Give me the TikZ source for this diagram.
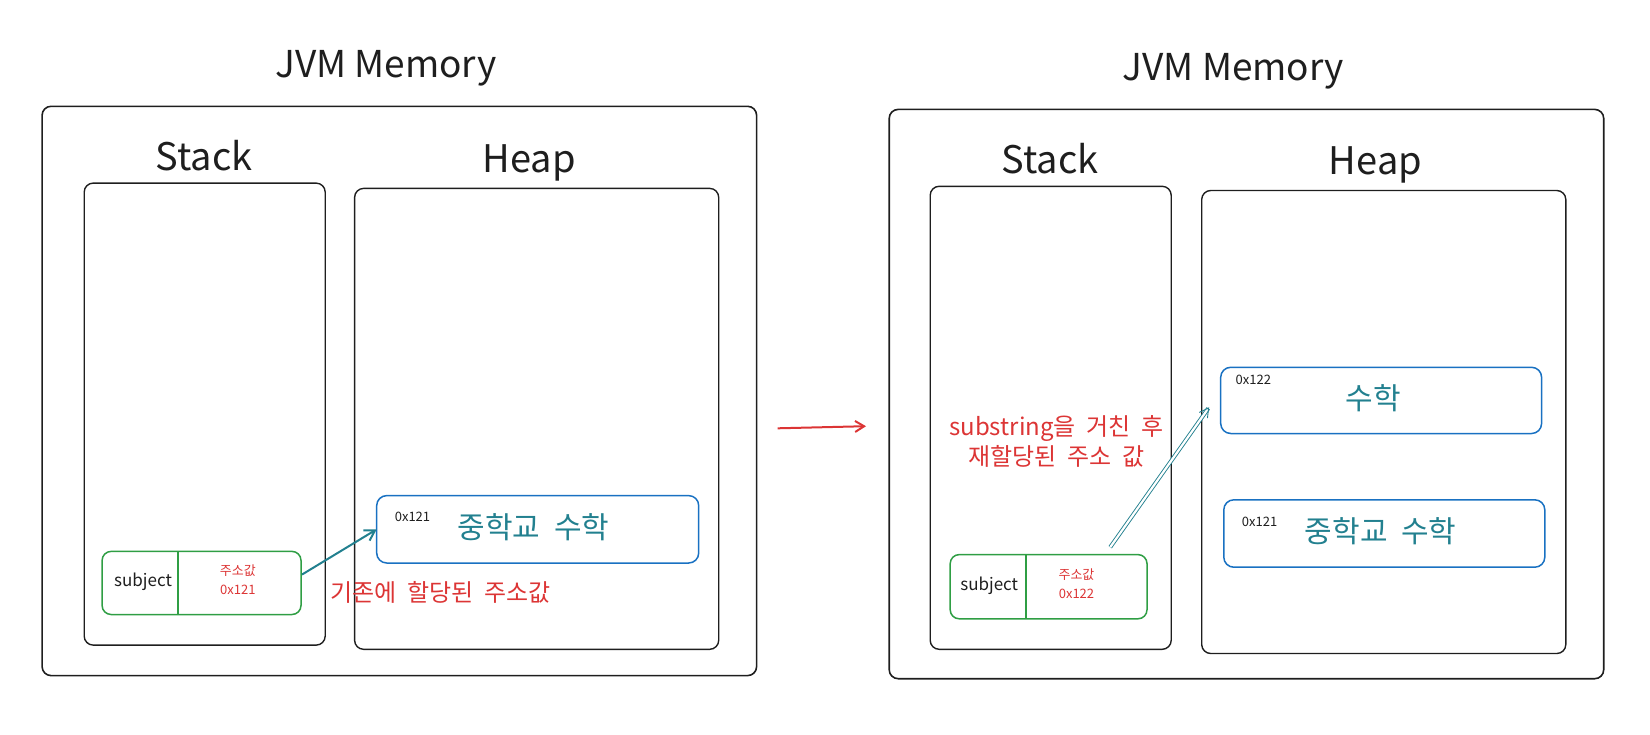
\documentclass[tikz,border=0pt]{standalone}
\usepackage{fontspec}
\setmainfont{Noto Sans CJK KR}
\usetikzlibrary{arrows.meta,calc}
\definecolor{ink}{HTML}{1E1E1E}
\definecolor{exred}{HTML}{DC3535}
\definecolor{exblue}{HTML}{1971C2}
\definecolor{exgreen}{HTML}{2F9E44}
\definecolor{exteal}{HTML}{22808F}
\newcommand\fsz[1]{\fontsize{#1}{#1}\selectfont}
\newcommand\wsp{\hspace{0.45em}}
\begin{document}
\begin{tikzpicture}[x=1pt,y=-1pt,
  frame/.style={draw=ink, line width=1.6pt, rounded corners=9pt, inner sep=0pt, outer sep=0pt, anchor=north west},
  inner/.style={draw=ink, line width=1.4pt, rounded corners=9pt, inner sep=0pt, outer sep=0pt, anchor=north west},
  strbox/.style={draw=exblue, line width=1.5pt, rounded corners=10pt, inner sep=0pt, outer sep=0pt, anchor=north west},
  varbox/.style={draw=exgreen, line width=1.5pt, rounded corners=9pt, inner sep=0pt, outer sep=0pt, anchor=north west},
  title/.style={font=\fsz{37}, text=ink, inner sep=0pt},
  label/.style={font=\fsz{38}, text=ink, inner sep=0pt},
  addr/.style={font=\fsz{13}, text=ink, inner sep=0pt},
  strtext/.style={font=\fsz{30}, text=exteal, inner sep=0pt},
  vartext/.style={font=\fsz{17}, text=ink, inner sep=0pt},
  valtext/.style={font=\fsz{13}, text=exred, inner sep=0pt},
  note/.style={font=\fsz{24}, text=exred, inner sep=0pt},
  ref/.style={draw=exteal, line width=2pt, -{Straight Barb[length=10pt,width=12pt]}},
]
\useasboundingbox (0,0) rectangle (1650,734);

% ---------- left panel ----------
\node[title] (titleL) at (386,68.4) {JVM Memory};
\node[frame, minimum width=714.5pt, minimum height=569.3pt] (outerL) at (42.1,106.3) {};
\node[label] (stackLblL) at (204.1,155.7) {Stack};
\node[inner, minimum width=241pt, minimum height=462pt] (stackL) at (84.2,183.1) {};
\node[label] (heapLblL) at (529.3,163.1) {Heap};
\node[inner, minimum width=364.1pt, minimum height=460.9pt] (heapL) at (354.6,188.4) {};

\node[strbox, minimum width=322pt, minimum height=67.4pt] (strL) at (376.7,495.6) {};
\node[addr] (addrL) at (412.5,516.7) {0x121};
\node[strtext] (txtL) at (533.5,527.2) {중학교\wsp 수학};

\node[varbox, minimum width=198.9pt, minimum height=63.1pt] (subjL) at (102.1,551.4) {};
\draw[exgreen, line width=1.5pt] ($(subjL.north west)+(75.7,0)$) -- ($(subjL.south west)+(75.7,0)$);
\node[vartext] (nameL) at (143.1,581.9) {subject};
\node[valtext] (valL1) at (237.8,570.3) {주소값};
\node[valtext] (valL2) at (237.8,590.3) {0x121};

\draw[ref] ($(subjL.east)+(1,-8.4)$) -- (strL.west);
\node[note] (noteL) at (440.9,592.4) {기존에\wsp 할당된\wsp 주소값};

% ---------- middle arrow ----------
\coordinate (m1) at (777.7,428.3);
\coordinate (m2) at (866,426.2);
\draw[exred, line width=2pt, -{Straight Barb[length=9pt,width=11pt]}] (m1) -- (m2);

% ---------- right panel ----------
\node[title] (titleR) at (1233.3,71.6) {JVM Memory};
\node[frame, minimum width=714.5pt, minimum height=569.3pt] (outerR) at (889.2,109.4) {};
\node[label] (stackLblR) at (1050.2,158.9) {Stack};
\node[inner, minimum width=241pt, minimum height=463pt] (stackR) at (930.2,186.3) {};
\node[label] (heapLblR) at (1375.4,165.2) {Heap};
\node[inner, minimum width=364.1pt, minimum height=463pt] (heapR) at (1201.7,190.5) {};

\node[strbox, minimum width=320.9pt, minimum height=66.2pt] (newR) at (1220.7,367.3) {};
\node[addr] (addrR1) at (1253.3,379.9) {0x122};
\node[strtext] (txtR1) at (1373.3,397.8) {수학};

\node[strbox, minimum width=321pt, minimum height=67.4pt] (oldR) at (1223.8,499.8) {};
\node[addr] (addrR2) at (1259.6,521.9) {0x121};
\node[strtext] (txtR2) at (1380.6,531.4) {중학교\wsp 수학};

\node[varbox, minimum width=196.8pt, minimum height=64.2pt] (subjR) at (950.2,554.6) {};
\draw[exgreen, line width=1.5pt] ($(subjR.north west)+(75.8,0)$) -- ($(subjR.south west)+(75.8,0)$);
\node[vartext] (nameR) at (989.2,586.1) {subject};
\node[valtext] (valR1) at (1076.5,574.5) {주소값};
\node[valtext] (valR2) at (1076.5,593.5) {0x122};

\draw[exteal, line width=0.9pt, double=white, double distance=2.2pt, -{Straight Barb[length=9pt,width=10pt]}]
  ($(subjR.north west)+(160,-7.4)$) -- ($(newR.west)+(-11.6,6.8)$);
\node[note, align=center, font={\fontsize{24}{30.5}\selectfont}] (noteR) at (1056.5,441.5) {substring을\wsp 거친\wsp 후\\재할당된\wsp 주소\wsp 값};
\end{tikzpicture}
\end{document}
